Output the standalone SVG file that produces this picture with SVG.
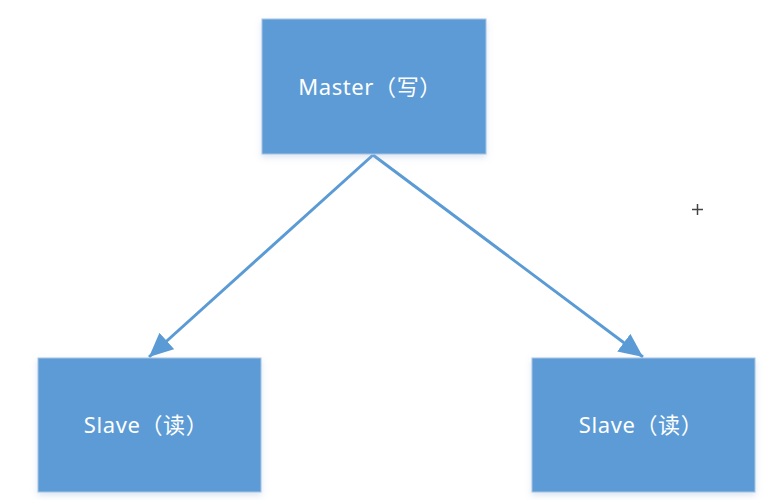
<svg xmlns="http://www.w3.org/2000/svg" width="784" height="500" viewBox="0 0 784 500">
<defs>
<style>
.box{fill:#5B9BD5;stroke:#A9C4E4;stroke-width:1}
.lbl{fill:#ffffff;font-family:"Noto Sans","Noto Sans CJK SC",sans-serif;font-size:22px;letter-spacing:0.6px}
.conn{stroke:#5B9BD5;stroke-width:3;fill:none}
</style>
<filter id="sh" x="-10%" y="-10%" width="120%" height="130%">
<feDropShadow dx="0" dy="3" stdDeviation="3" flood-color="#9bb7d8" flood-opacity="0.35"/>
</filter>
<marker id="ah" markerUnits="userSpaceOnUse" markerWidth="26" markerHeight="22" refX="24" refY="11" orient="auto">
<path d="M0,0 L24,11 L0,22 Z" fill="#5B9BD5"/>
</marker>
</defs>
<rect width="784" height="500" fill="#ffffff"/>
<g id="connectors">
<line class="conn" x1="373" y1="155" x2="149" y2="357" marker-end="url(#ah)"/>
<line class="conn" x1="373" y1="155" x2="643" y2="357" marker-end="url(#ah)"/>
</g>
<g id="master">
<rect class="box" x="262" y="19" width="224" height="135" filter="url(#sh)"/>
<text class="lbl" x="370" y="95" text-anchor="middle">Master（写）</text>
</g>
<g id="slave-left">
<rect class="box" x="38" y="358" width="223" height="134" filter="url(#sh)"/>
<text class="lbl" x="146" y="433" text-anchor="middle">Slave（读）</text>
</g>
<g id="slave-right">
<rect class="box" x="532" y="358" width="223" height="134" filter="url(#sh)"/>
<text class="lbl" x="641" y="433" text-anchor="middle">Slave（读）</text>
</g>
<g id="cursor" stroke="#444" stroke-width="1.5">
<line x1="692" y1="209.5" x2="703" y2="209.5"/>
<line x1="697.5" y1="204" x2="697.5" y2="215"/>
</g>
</svg>
